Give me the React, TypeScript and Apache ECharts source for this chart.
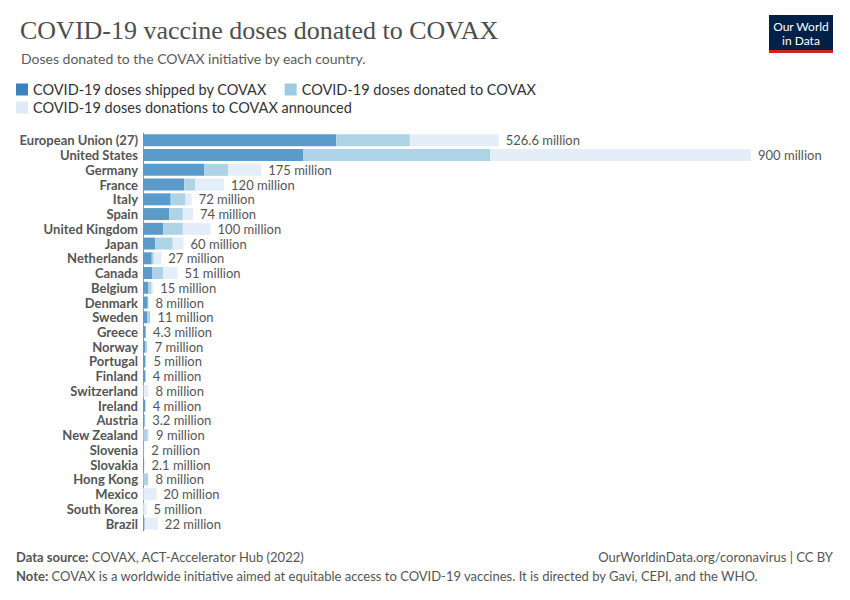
import React, { useEffect, useRef } from "react";
import * as echarts from "echarts";

const countries = [
  "European Union (27)", "United States", "Germany", "France", "Italy", "Spain",
  "United Kingdom", "Japan", "Netherlands", "Canada", "Belgium", "Denmark", "Sweden",
  "Greece", "Norway", "Portugal", "Finland", "Switzerland", "Ireland", "Austria",
  "New Zealand", "Slovenia", "Slovakia", "Hong Kong", "Mexico", "South Korea", "Brazil",
];
// millions of doses
const shipped = [286, 237, 91, 61, 41, 39, 30, 18, 13, 14, 7.4, 7, 6, 4, 3, 3.5, 3.5, 0.5, 3, 2.5, 0.5, 1, 1.5, 0.5, 0, 0, 1.5];
const donated = [395, 514, 126, 77, 63, 59, 59, 44, 16, 30, 12.8, 8, 10.4, 4.3, 6, 4.5, 4, 1, 4, 3.2, 7, 1.5, 2, 7.5, 0.5, 0.5, 3.5];
const announced = [526.6, 900, 175, 120, 72, 74, 100, 60, 27, 51, 15, 8, 11, 4.3, 7, 5, 4, 8, 4, 3.2, 9, 2, 2.1, 8, 20, 5, 22];

const seriesNames = [
  "COVID-19 doses shipped by COVAX",
  "COVID-19 doses donated to COVAX",
  "COVID-19 doses donations to COVAX announced",
];
const legendColors = ["#3a83bf", "#9ecae1", "#deebf7"];
const barColors = ["#5b9bc9", "#afd3e6", "#e3eef8"];

const fmt = (v: number) => `${v} million`;

export default function App() {
  const ref = useRef<HTMLDivElement>(null);
  useEffect(() => {
    if (!ref.current) return;
    const chart = echarts.init(ref.current, undefined, { renderer: "svg" });
    const seg1 = shipped;
    const seg2 = donated.map((d, i) => Math.max(0, d - shipped[i]));
    const seg3 = announced.map((a, i) => Math.max(0, a - donated[i]));
    const segs = [seg1, seg2, seg3];
    const legendText = { fontFamily: "Lato", fontSize: 14.5, color: "#333" };
    chart.setOption({
      animation: false,
      textStyle: { fontFamily: "Lato" },
      title: [
        {
          text: "COVID-19 vaccine doses donated to COVAX",
          left: 15,
          top: 12,
          textStyle: { fontFamily: "Liberation Serif", fontSize: 26, fontWeight: "normal", color: "#4e4e4e" },
        },
        {
          text: "Doses donated to the COVAX initiative by each country.",
          left: 16,
          top: 46,
          textStyle: { fontFamily: "Lato", fontSize: 14, fontWeight: "normal", color: "#5b5b5b" },
        },
      ],
      legend: [
        {
          data: seriesNames.slice(0, 2).map((n, i) => ({ name: n, itemStyle: { color: legendColors[i], opacity: 1 } })),
          left: 11,
          top: 77,
          itemWidth: 12,
          itemHeight: 12,
          itemGap: 18,
          icon: "rect",
          selectedMode: false,
          textStyle: legendText,
        },
        {
          data: [{ name: seriesNames[2], itemStyle: { color: legendColors[2], opacity: 1 } }],
          left: 11,
          top: 95,
          itemWidth: 12,
          itemHeight: 12,
          icon: "rect",
          selectedMode: false,
          textStyle: legendText,
        },
      ],
      grid: { left: 143, top: 133, width: 608, height: 398, containLabel: false },
      xAxis: {
        type: "value",
        min: 0,
        max: 900,
        show: false,
      },
      yAxis: {
        type: "category",
        inverse: true,
        data: countries,
        axisLine: { show: true, lineStyle: { color: "#999", width: 1 } },
        axisTick: { show: false },
        axisLabel: {
          interval: 0,
          fontFamily: "Lato",
          fontWeight: "bold",
          fontSize: 13,
          color: "#555",
          margin: 5,
        },
      },
      series: segs.map((s, k) => ({
        name: seriesNames[k],
        type: "bar",
        stack: "total",
        data: s,
        barWidth: 12,
        itemStyle: { color: barColors[k] },
        label:
          k === 2
            ? {
                show: true,
                position: "right",
                distance: 7,
                formatter: (p: any) => fmt(announced[p.dataIndex]),
                fontFamily: "Lato",
                fontSize: 13,
                color: "#555",
              }
            : { show: false },
      })),
      graphic: [
        { type: "rect", shape: { x: 769, y: 15, width: 64, height: 35 }, style: { fill: "#002147" } },
        { type: "rect", shape: { x: 769, y: 50, width: 64, height: 3 }, style: { fill: "#ce261e" } },
        {
          type: "text",
          x: 801,
          y: 19,
          style: {
            text: "Our World\nin Data",
            fill: "#fff",
            font: "12px Lato",
            align: "center",
            lineHeight: 14,
          },
        },
        {
          type: "text",
          x: 16,
          y: 550,
          style: {
            text: "{b|Data source:} COVAX, ACT-Accelerator Hub (2022)",
            rich: { b: { fontWeight: "bold", fontFamily: "Lato", fontSize: 13, fill: "#555" } },
            font: "13px Lato",
            fill: "#555",
          },
        },
        {
          type: "text",
          x: 833,
          y: 550,
          style: {
            text: "OurWorldinData.org/coronavirus | CC BY",
            font: "13px Lato",
            fill: "#555",
            align: "right",
          },
        },
        {
          type: "text",
          x: 16,
          y: 569,
          style: {
            text: "{b|Note:} COVAX is a worldwide initiative aimed at equitable access to COVID-19 vaccines. It is directed by Gavi, CEPI, and the WHO.",
            rich: { b: { fontWeight: "bold", fontFamily: "Lato", fontSize: 13, fill: "#555" } },
            font: "13px Lato",
            fill: "#555",
          },
        },
      ],
    });
    return () => chart.dispose();
  }, []);
  return <div ref={ref} style={{ width: 850, height: 600, position: "absolute", left: 0, top: 0 }} />;
}
